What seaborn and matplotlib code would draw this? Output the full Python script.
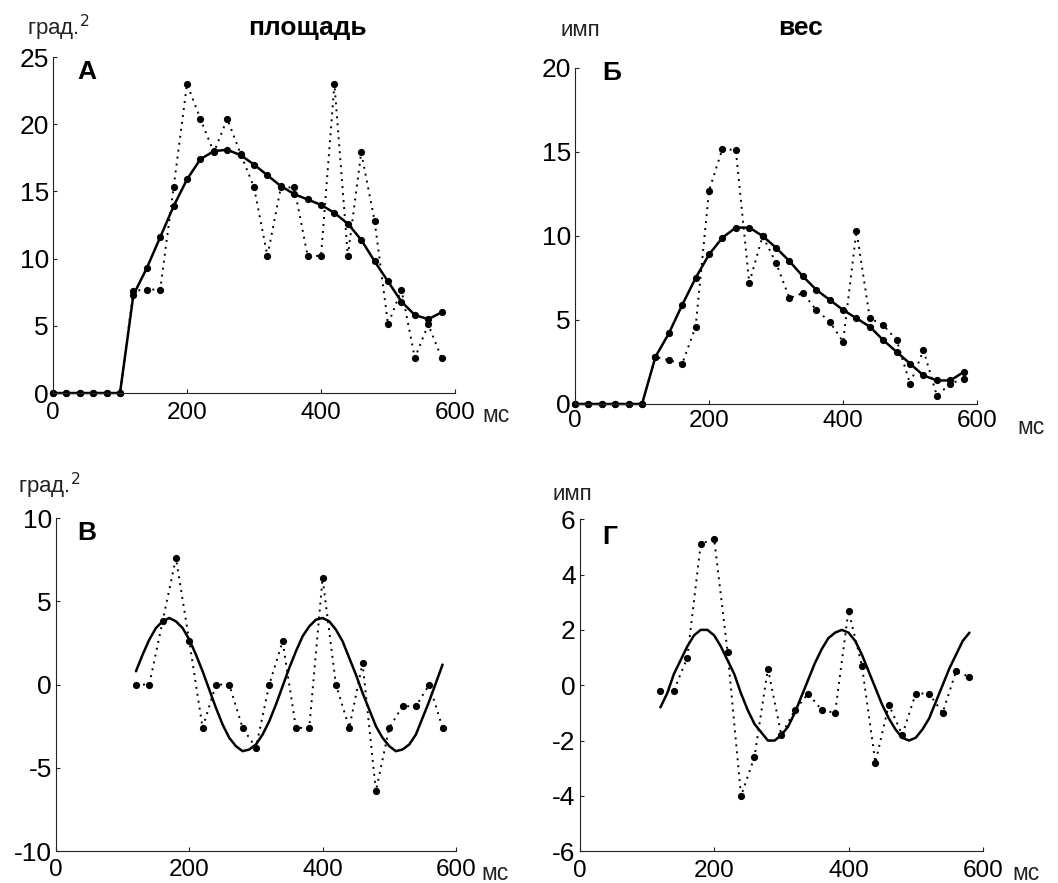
import numpy as np
import pandas as pd
import matplotlib
matplotlib.use("Agg")
import matplotlib.pyplot as plt
import seaborn as sns

# time axis (ms)
t_full = list(range(0, 600, 20))        # 0..580 for panels A, Б
t_osc = list(range(120, 600, 20))       # 120..580 raw points for В, Г
t_fit = list(range(120, 590, 10))       # 120..580 fitted curve for В, Г

# panel A (площадь): raw values (dotted) and smoothed (solid)
area_raw = [0, 0, 0, 0, 0, 0, 7.6, 7.7, 7.7, 15.3, 23.0, 20.4, 17.9, 20.4, 17.8,
            15.3, 10.2, 15.3, 15.3, 10.2, 10.2, 23.0, 10.2, 17.9, 12.8, 5.1, 7.7,
            2.6, 5.1, 2.6]
area_smooth = [0, 0, 0, 0, 0, 0, 7.3, 9.3, 11.6, 13.9, 15.9, 17.4, 18.0, 18.1, 17.7,
               17.0, 16.2, 15.4, 14.8, 14.4, 14.0, 13.4, 12.6, 11.4, 9.8, 8.3, 6.8,
               5.8, 5.5, 6.0]

# panel Б (вес)
weight_raw = [0, 0, 0, 0, 0, 0, 2.8, 2.6, 2.4, 4.6, 12.7, 15.2, 15.1, 7.2, 10.0,
              8.4, 6.3, 6.6, 5.6, 4.9, 3.7, 10.3, 5.1, 4.7, 3.8, 1.2, 3.2, 0.5,
              1.2, 1.5]
weight_smooth = [0, 0, 0, 0, 0, 0, 2.8, 4.2, 5.9, 7.5, 8.9, 9.9, 10.5, 10.5, 10.0,
                 9.3, 8.5, 7.6, 6.8, 6.2, 5.6, 5.1, 4.6, 3.8, 3.1, 2.4, 1.7, 1.4,
                 1.4, 1.9]

# panel В (residual area)
area_res = [0, 0, 3.8, 7.6, 2.6, -2.6, 0, 0, -2.6, -3.8, 0, 2.6, -2.6, -2.6, 6.4,
            0, -2.6, 1.3, -6.4, -2.6, -1.3, -1.3, 0, -2.6]
area_fit = [0.8, 1.8, 2.7, 3.4, 3.8, 4.0, 3.8, 3.4, 2.7, 1.8, 0.8, -0.3, -1.4, -2.4,
            -3.2, -3.7, -4.0, -3.9, -3.6, -3.0, -2.2, -1.2, -0.1, 1.0, 2.0, 2.9,
            3.5, 3.9, 4.0, 3.8, 3.3, 2.6, 1.6, 0.6, -0.5, -1.5, -2.5, -3.2, -3.7,
            -4.0, -3.9, -3.6, -3.0, -2.0, -1.0, 0.1, 1.2]

# panel Г (residual weight)
weight_res = [-0.2, -0.2, 1.0, 5.1, 5.3, 1.2, -4.0, -2.6, 0.6, -1.8, -0.9, -0.3,
              -0.9, -1.0, 2.7, 0.7, -2.8, -0.7, -1.8, -0.3, -0.3, -1.0, 0.5, 0.3]
weight_fit = [-0.8, -0.3, 0.4, 0.9, 1.4, 1.8, 2.0, 2.0, 1.8, 1.4, 0.9, 0.4, -0.3,
              -0.9, -1.4, -1.7, -2.0, -2.0, -1.8, -1.5, -1.0, -0.4, 0.2, 0.8, 1.3,
              1.7, 1.9, 2.0, 1.9, 1.6, 1.1, 0.5, -0.1, -0.7, -1.2, -1.6, -1.9, -2.0,
              -1.9, -1.6, -1.2, -0.6, 0.0, 0.6, 1.1, 1.6, 1.9]

sns.set_theme(style="ticks")
plt.rcParams['font.family'] = ['Liberation Sans', 'DejaVu Sans']
plt.rcParams['axes.unicode_minus'] = False
plt.rcParams['text.color'] = 'black'

fig = plt.figure(figsize=(10.58, 8.83), dpi=100)

dotted = (0, (1, 2.6))


def setup(ax, ylim, yticks, xpad=6):
    ax.set_xlim(0, 600)
    ax.set_ylim(*ylim)
    ax.set_xticks([0, 200, 400, 600])
    ax.set_yticks(yticks)
    sns.despine(ax=ax)
    for s in ["left", "bottom"]:
        ax.spines[s].set_linewidth(0.8)
        ax.spines[s].set_color("#222222")
    ax.tick_params(direction="in", length=3, width=0.8,
                   colors="#222222", labelcolor="black")
    ax.tick_params(axis="x", pad=xpad, labelsize=17.5)
    ax.tick_params(axis="y", pad=3, labelsize=19)
    ax.set_xlabel("")
    ax.set_ylabel("")
    ax.set_facecolor("white")


def draw_series(ax, x, y, ls, marker=True, lw=1.5):
    df = pd.DataFrame({"t": x, "v": y})
    kw = dict(marker="o", markersize=5.2, markeredgewidth=0) if marker else {}
    sns.lineplot(data=df, x="t", y="v", ax=ax, color="black", linestyle=ls,
                 linewidth=lw, clip_on=False, **kw)


# A
axA = fig.add_axes([0.0501, 0.5549, 0.380, 0.3805])
draw_series(axA, t_full, area_raw, dotted, lw=1.4)
draw_series(axA, t_full, area_smooth, "-", lw=1.8)
setup(axA, (0, 25), [0, 5, 10, 15, 20, 25], xpad=6.5)

# Б
axB = fig.add_axes([0.5435, 0.5425, 0.380, 0.3805])
draw_series(axB, t_full, weight_raw, dotted, lw=1.4)
draw_series(axB, t_full, weight_smooth, "-", lw=1.8)
setup(axB, (0, 20), [0, 5, 10, 15, 20], xpad=4)

# В
axC = fig.add_axes([0.0529, 0.0362, 0.378, 0.377])
draw_series(axC, t_osc, area_res, dotted, lw=1.4)
draw_series(axC, t_fit, area_fit, "-", marker=False, lw=1.8)
setup(axC, (-10, 10), [-10, -5, 0, 5, 10], xpad=6)

# Г
axD = fig.add_axes([0.548, 0.036, 0.381, 0.376])
draw_series(axD, t_osc, weight_res, dotted, lw=1.4)
draw_series(axD, t_fit, weight_fit, "-", marker=False, lw=1.8)
setup(axD, (-6, 6), [-6, -4, -2, 0, 2, 4, 6], xpad=6)

# panel letters
for letter, (px, py) in [("А", (77, 72)), ("Б", (602, 73)),
                         ("В", (77, 533)), ("Г", (602, 537))]:
    fig.text(px / 1058, 1 - py / 883, letter, fontsize=19, fontweight="bold",
             ha="left", va="center", color="black")

# titles
fig.text(307 / 1058, 1 - 28 / 883, "площадь", fontsize=19, fontweight="bold",
         ha="center", va="center", color="black")
fig.text(800 / 1058, 1 - 28 / 883, "вес", fontsize=19, fontweight="bold",
         ha="center", va="center", color="black")

# units
unit_kw = dict(fontsize=16, color="#222222", ha="left", va="center")
fig.text(27 / 1058, 1 - 28 / 883, "град.$^{2}$", **unit_kw)
fig.text(561 / 1058, 1 - 30 / 883, "имп", **unit_kw)
fig.text(18 / 1058, 1 - 486 / 883, "град.$^{2}$", **unit_kw)
fig.text(552 / 1058, 1 - 495 / 883, "имп", **unit_kw)

# time unit labels
ms_kw = dict(fontsize=16.5, color="#222222", ha="left", va="center")
fig.text(482 / 1058, 1 - 415 / 883, "мс", **ms_kw)
fig.text(1017 / 1058, 1 - 427 / 883, "мс", **ms_kw)
fig.text(481 / 1058, 1 - 873 / 883, "мс", **ms_kw)
fig.text(1012 / 1058, 1 - 873 / 883, "мс", **ms_kw)

fig.savefig("out.png", dpi=100, facecolor="white")
